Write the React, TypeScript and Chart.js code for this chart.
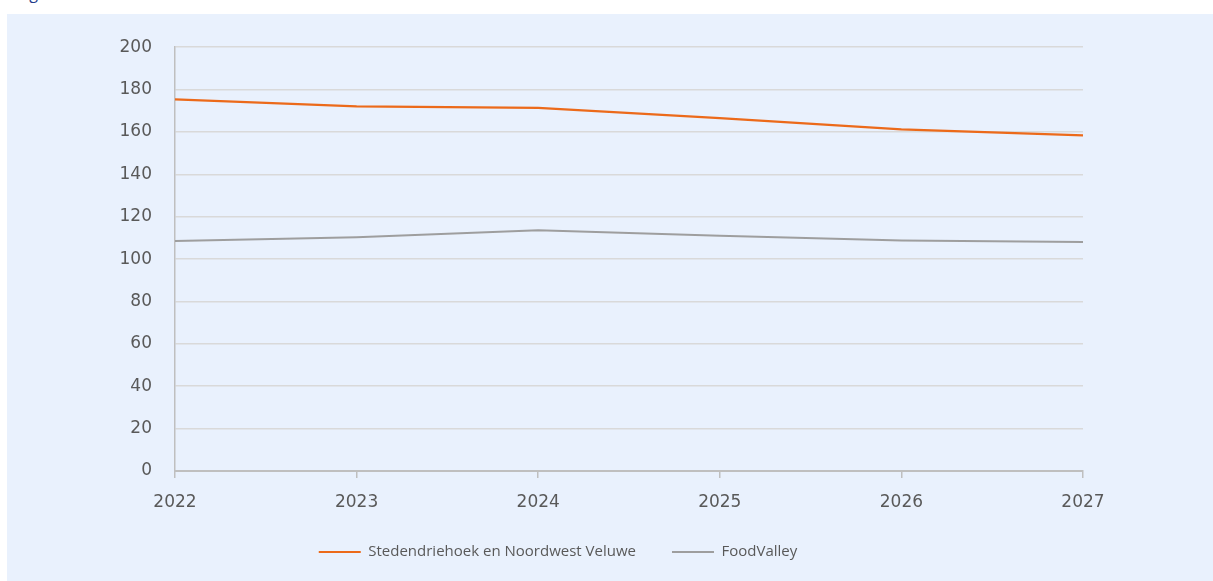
import React, { useEffect, useRef } from 'react';
import { Chart, registerables } from 'chart.js';

Chart.register(...registerables);

const years = ['2022', '2023', '2024', '2025', '2026', '2027'];
const seriesNames = ['Stedendriehoek en Noordwest Veluwe', 'FoodValley'];
const stedendriehoekValues = [175.4, 172.1, 171.4, 166.5, 161.2, 158.4];
const foodValleyValues = [108.6, 110.3, 113.6, 111.0, 108.8, 108.1];
const yMin = 0;
const yMax = 200;
const yStep = 20;

const PANEL_W = 1206;
const PANEL_H = 567;
const TEXT = '#595959';
const FONT = "'Open Sans', sans-serif";
const TICK_FONT = "'DejaVu Sans', sans-serif";

export default function App() {
  const ref = useRef<HTMLCanvasElement | null>(null);

  useEffect(() => {
    document.body.style.overflow = 'hidden';
    const canvas = ref.current;
    if (!canvas) return;
    const chart = new Chart(canvas, {
      type: 'line',
      data: {
        labels: years,
        datasets: [
          {
            label: seriesNames[0],
            data: stedendriehoekValues,
            borderColor: '#EC6A1A',
            backgroundColor: '#EC6A1A',
            borderWidth: 2.2,
            pointRadius: 0,
            tension: 0,
          },
          {
            label: seriesNames[1],
            data: foodValleyValues,
            borderColor: '#9E9E9E',
            backgroundColor: '#9E9E9E',
            borderWidth: 2,
            pointRadius: 0,
            tension: 0,
          },
        ],
      },
      options: {
        responsive: false,
        animation: false,
        layout: { padding: { left: 26, right: 130, top: 30, bottom: 0 } },
        plugins: {
          legend: {
            position: 'bottom',
            labels: {
              color: TEXT,
              font: { family: FONT, size: 15 },
              boxWidth: 42,
              boxHeight: 2,
              padding: 36,
              generateLabels: (c: any) =>
                (Chart.defaults.plugins.legend.labels.generateLabels as any)(c).map((l: any) => ({
                  ...l,
                  lineWidth: 0,
                })),
            },
          },
          tooltip: { enabled: false },
        },
        scales: {
          x: {
            offset: false,
            grid: {
              display: true,
              drawOnChartArea: false,
              drawTicks: true,
              tickLength: 7,
              color: '#BFBFBF',
              lineWidth: 1.5,
            },
            border: { display: true, color: '#BFBFBF', width: 2 },
            ticks: {
              color: TEXT,
              font: { family: TICK_FONT, size: 17 },
              padding: 14,
              maxRotation: 0,
            },
            afterFit: (s: any) => {
              s.height = 37.5;
            },
          },
          y: {
            min: yMin,
            max: yMax,
            grid: { color: '#D9D9D9', lineWidth: 1.5, drawTicks: false },
            border: { display: true, color: '#BFBFBF', width: 1.5 },
            ticks: {
              stepSize: yStep,
              color: TEXT,
              font: { family: TICK_FONT, size: 17 },
              padding: 23,
            },
            afterFit: (s: any) => {
              s.width = 142;
            },
          },
        },
      },
    });
    const lg: any = (chart as any).legend;
    if (lg) {
      const origFit = lg.fit.bind(lg);
      lg.fit = () => {
        origFit();
        lg.height = 72.5;
      };
      chart.update();
    }
    return () => chart.destroy();
  }, []);

  return (
    <div>
      <div
        style={{
          position: 'absolute',
          left: 17,
          top: -18,
          color: '#1F3C88',
          fontFamily: FONT,
          fontSize: 16,
          lineHeight: '22px',
          whiteSpace: 'nowrap',
        }}
      >
        Figuur
      </div>
      <div
        style={{
          position: 'absolute',
          left: 7,
          top: 14,
          width: PANEL_W,
          height: PANEL_H,
          background: '#E9F1FD',
        }}
      >
        <canvas ref={ref} width={PANEL_W} height={PANEL_H} style={{ display: 'block', width: PANEL_W, height: PANEL_H }} />
      </div>
    </div>
  );
}
